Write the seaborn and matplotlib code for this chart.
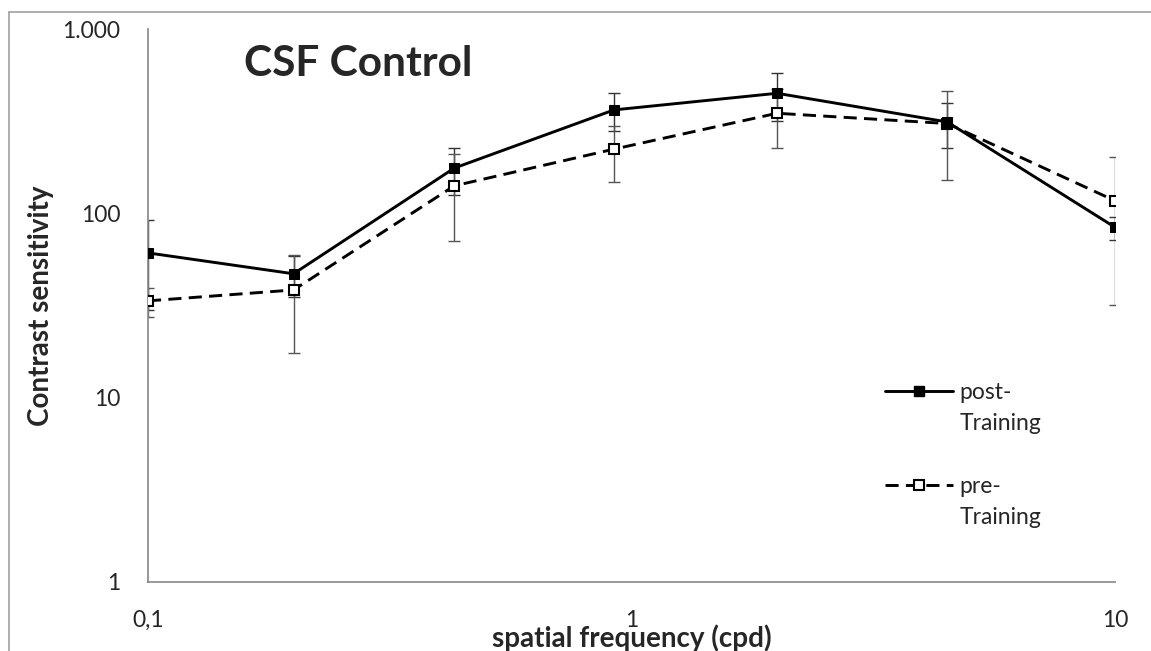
import pandas as pd
import matplotlib.pyplot as plt
import seaborn as sns
from matplotlib.lines import Line2D

# valores
freq = [0.1, 0.2, 0.43, 0.92, 2.0, 4.5, 10]
post = [61, 47, 176, 364, 448, 313, 84]
post_err = [31, 12, 50, 84, 130, 86, 12]
pre = [33.5, 38.4, 141, 223, 349, 307, 117]
pre_err = [6, 21, 70, 75, 123, 155, 85]

yticks = [1, 10, 100, 1000]
ytick_labels = ['1', '10', '100', '1.000']
xticks = [0.1, 1, 10]
xtick_labels = ['0,1', '1', '10']

df_post = pd.DataFrame({'freq': freq, 'cs': post})
df_pre = pd.DataFrame({'freq': freq, 'cs': pre})

sns.set_style('white')
plt.rcParams['font.family'] = ['Lato', 'DejaVu Sans']

fig = plt.figure(figsize=(11.51, 6.51), dpi=100)
ax = fig.add_axes([148/1151, 69/651, 967/1151, 553/651])

# barras de erro
ax.errorbar(freq, post, yerr=post_err, fmt='none', ecolor='#333333',
            elinewidth=1, capsize=4, capthick=1, zorder=2)
ax.errorbar(freq, pre, yerr=pre_err, fmt='none', ecolor='#555555',
            elinewidth=1, capsize=4, capthick=1, zorder=2)

sns.lineplot(data=df_post, x='freq', y='cs', ax=ax, color='black', lw=2.1,
             marker='s', markersize=7.5, markerfacecolor='black',
             markeredgecolor='black', zorder=4)
sns.lineplot(data=df_pre, x='freq', y='cs', ax=ax, color='black', lw=2.1,
             marker='s', markersize=7.5, markerfacecolor='white',
             markeredgecolor='black', markeredgewidth=1.5, zorder=3)
ax.lines[-1].set_dashes((4.5, 2.5))

ax.set_xscale('log')
ax.set_yscale('log')
ax.set_xlim(0.1, 10)
ax.set_ylim(1, 1000)
ax.set_xticks(xticks, xtick_labels)
ax.set_yticks(yticks, ytick_labels)
ax.minorticks_off()
ax.tick_params(axis='both', which='major', labelsize=16.5, length=6,
               width=1, color='#868686', direction='out')
ax.tick_params(axis='y', pad=14)
ax.tick_params(axis='x', pad=14)

for s in ['top', 'right']:
    ax.spines[s].set_visible(False)
for s in ['left', 'bottom']:
    ax.spines[s].set_color('#868686')
    ax.spines[s].set_linewidth(1.2)

ax.set_xlabel('spatial frequency (cpd)', fontsize=20, fontweight='bold', labelpad=-4.5)
ax.set_ylabel('Contrast sensitivity', fontsize=20, fontweight='bold', labelpad=6)

fig.text(244/1151, 1-76/651, 'CSF Control', fontsize=30.5, fontweight='bold',
         va='baseline', ha='left')

# legenda
h_post = Line2D([], [], color='black', lw=2.1, marker='s', markersize=7.5)
h_pre = Line2D([], [], color='black', lw=2.1, marker='s', markersize=7.5,
               markerfacecolor='white', markeredgewidth=1.5, dashes=(4.5, 2.5))
blank = Line2D([], [], linestyle='none')
ax.legend([h_post, blank, blank, h_pre, blank],
          ['post-', 'Training', '', 'pre-', 'Training'],
          loc='upper left', bbox_to_anchor=(885/1151, 1-382/651),
          bbox_transform=fig.transFigure, frameon=False, fontsize=16.5,
          handlelength=2.95, handletextpad=0.3, borderpad=0, borderaxespad=0,
          labelspacing=0.45)

# moldura do grafico
fig.add_artist(Line2D([9/1151, 9/1151], [0, 1-12/651], color='#a0a0a0', lw=1.2,
                      transform=fig.transFigure))
fig.add_artist(Line2D([9/1151, 1], [1-12/651, 1-12/651], color='#a0a0a0', lw=1.2,
                      transform=fig.transFigure))

fig.savefig('out.png', dpi=100)
